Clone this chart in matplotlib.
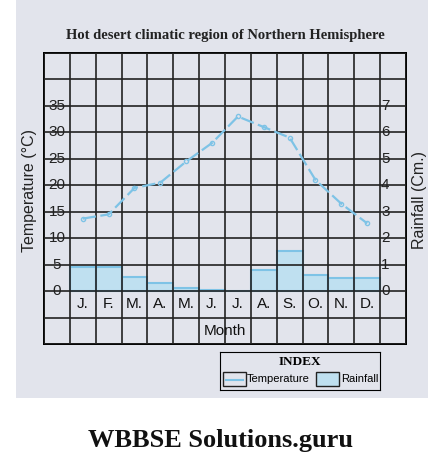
import matplotlib
matplotlib.use("Agg")
import matplotlib.pyplot as plt
from matplotlib.patches import Rectangle

months = ["J.", "F.", "M.", "A.", "M.", "J.", "J.", "A.", "S.", "O.", "N.", "D."]
temperature = [13.7, 14.5, 19.5, 20.5, 24.5, 28.0, 33.0, 31.0, 29.0, 21.0, 16.5, 12.8]
rainfall = [0.9, 0.9, 0.55, 0.3, 0.1, 0.05, 0.0, 0.8, 1.5, 0.6, 0.5, 0.5]
temp_ticks = [0, 5, 10, 15, 20, 25, 30, 35]
rain_ticks = [0, 1, 2, 3, 4, 5, 6, 7]

W, H = 439, 469
fig = plt.figure(figsize=(W / 100, H / 100), dpi=100)
bg = fig.add_axes([16 / W, 1 - 398 / H, 412 / W, 398 / H], zorder=-10)
bg.axis("off")
bg.add_patch(Rectangle((0, 0), 1, 1, transform=bg.transAxes, color="#e2e4ec"))

ax = fig.add_axes([44 / W, 1 - 344 / H, 362 / W, 291 / H])
ax.set_facecolor("#e2e4ec")
ax.set_xlim(0, 14)
ax.set_ylim(-10, 45)
for x in range(15):
    ax.axvline(x, color="#222", lw=1.2, zorder=3)
for y in range(-10, 46, 5):
    ax.axhline(y, color="#222", lw=1.2, zorder=3)
ax.set_xticks([])
ax.set_yticks([])
for s in ax.spines.values():
    s.set_linewidth(1.4)

blue = "#7ec3e6"
xs = [i + 1.5 for i in range(12)]
# rainfall bars (1 cm = 5 degC on the grid)
ax.bar(xs, [r * 5 for r in rainfall], width=1.0, color="#bfe0f0", edgecolor=blue,
       lw=1.5, zorder=2)
ax.plot(xs, temperature, color=blue, lw=1.6, ls=(0, (6, 2)), marker="o", ms=3,
        mfc="none", zorder=4)

for t in temp_ticks:
    ax.text(0.5, t, str(t), ha="center", va="center", fontsize=11, color="#222",
            family="Liberation Sans", zorder=5)
for r in rain_ticks:
    ax.text(13.2, r * 5, str(r), ha="center", va="center", fontsize=11, color="#222",
            family="Liberation Sans", zorder=5)
for x, m in zip(xs, months):
    ax.text(x, -2.5, m, ha="center", va="center", fontsize=11, color="#111",
            family="Liberation Sans", zorder=5)
ax.text(7, -7.6, "Month", ha="center", va="center", fontsize=11, color="#111",
        family="Liberation Sans", zorder=5)

fig.text(30 / W, 1 - 190 / H, "Temperature (°C)", rotation=90, ha="center",
         va="center", fontsize=11.5, family="Liberation Sans", color="#222")
fig.text(420 / W, 1 - 200 / H, "Rainfall (Cm.)", rotation=90, ha="center",
         va="center", fontsize=11.5, family="Liberation Sans", color="#222")
fig.text(225 / W, 1 - 36 / H, "Hot desert climatic region of Northern Hemisphere",
         ha="center", va="center", fontsize=10.5, weight="bold",
         family="Liberation Serif", color="#222")
fig.text(220 / W, 1 - 440 / H, "WBBSE Solutions.guru", ha="center", va="center",
         fontsize=19, weight="bold", family="Liberation Serif", color="#111")

# index box
lg = fig.add_axes([220 / W, 1 - 390 / H, 160 / W, 38 / H])
lg.set_xlim(0, 160)
lg.set_ylim(0, 38)
lg.set_facecolor("#e2e4ec")
lg.set_xticks([])
lg.set_yticks([])
lg.text(80, 28, "INDEX", ha="center", va="center", fontsize=9.5, weight="bold",
        family="Liberation Serif")
lg.add_patch(Rectangle((3, 4), 23, 14, fill=False, ec="#222", lw=1))
lg.plot([6, 23], [10, 10], color=blue, lw=1.5)
lg.text(27, 11, "Temperature", ha="left", va="center", fontsize=8,
        family="Liberation Sans")
lg.add_patch(Rectangle((96, 4), 23, 14, fc="#bfe0f0", ec="#222", lw=1))
lg.text(121, 11, "Rainfall", ha="left", va="center", fontsize=8,
        family="Liberation Sans")

fig.savefig("out.png", dpi=100)
